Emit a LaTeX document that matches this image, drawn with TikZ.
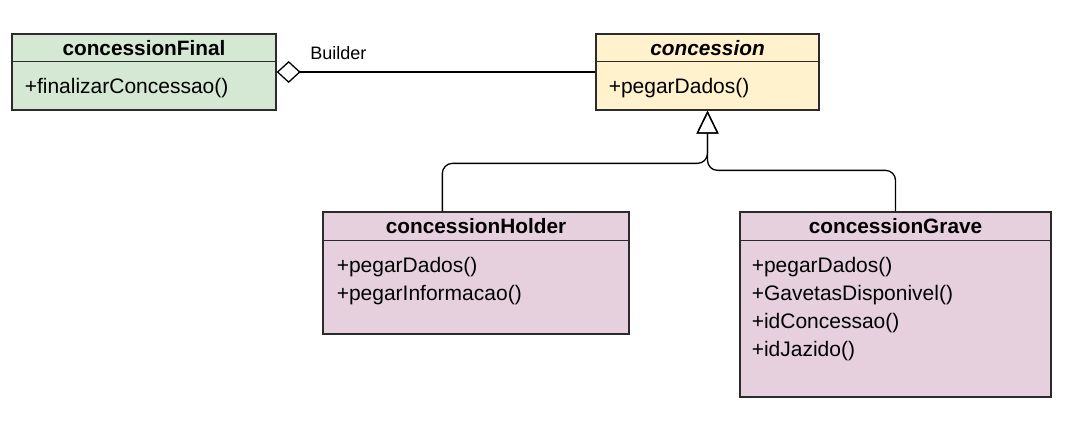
\documentclass[tikz,border=0pt]{standalone}
\usepackage{fontspec}
\setmainfont{Liberation Sans}
\usepackage{xcolor}
\usetikzlibrary{arrows.meta}
\definecolor{finalgreen}{HTML}{D5E8D4}
\definecolor{abstractyellow}{HTML}{FFF2CC}
\definecolor{childpurple}{HTML}{E6D0DE}
\definecolor{borderdark}{HTML}{2B2B2B}
\tikzset{
  classbox/.style={draw=borderdark,line width=0.65pt,inner sep=0pt},
  classname/.style={font=\bfseries\fontsize{10.4}{12}\selectfont,inner sep=0pt},
  method/.style={font=\fontsize{10.5}{12}\selectfont,inner sep=0pt,anchor=west,text height=0.73em,text depth=0.21em},
  divider/.style={draw=borderdark,line width=0.65pt},
  aggregation/.style={line width=0.65pt,-{Diamond[open,length=12pt,width=11pt]}},
  generalization/.style={line width=0.65pt,rounded corners=5pt,-{Triangle[open,length=11.5pt,width=11pt]}},
}
\begin{document}
\begin{tikzpicture}[x=0.5pt,y=-0.5pt]
\useasboundingbox (0,0) rectangle (1090,420);
\node[classbox,fill=finalgreen,minimum width=132pt,minimum height=38pt] (final) at (144,72) {};
\draw[divider] ([yshift=-14pt]final.north west) -- ([yshift=-14pt]final.north east);
\node[classname] (finalName) at ([yshift=-7.5pt]final.north) {concessionFinal};
\node[method] (finalM1) at ([xshift=6.5pt,yshift=-27.5pt]final.north west) {+finalizarConcessao()};
\node[classbox,fill=abstractyellow,minimum width=111.5pt,minimum height=38pt] (concession) at (707.5,72) {};
\draw[divider] ([yshift=-14pt]concession.north west) -- ([yshift=-14pt]concession.north east);
\node[classname,font=\bfseries\itshape\fontsize{10.4}{12}\selectfont] (concessionName) at ([yshift=-7.5pt]concession.north) {concession};
\node[method] (concessionM1) at ([xshift=6.5pt,yshift=-27.5pt]concession.north west) {+pegarDados()};
\node[classbox,fill=childpurple,minimum width=153pt,minimum height=61pt] (holder) at (476,273) {};
\draw[divider] ([yshift=-14.5pt]holder.north west) -- ([yshift=-14.5pt]holder.north east);
\node[classname] (holderName) at ([yshift=-7.5pt]holder.north) {concessionHolder};
\node[method] (holderM1) at ([xshift=7pt,yshift=-28pt]holder.north west) {+pegarDados()};
\node[method] (holderM2) at ([yshift=-14pt]holderM1.west) {+pegarInformacao()};
\node[classbox,fill=childpurple,minimum width=155.5pt,minimum height=92.5pt] (grave) at (895.5,304.5) {};
\draw[divider] ([yshift=-14.5pt]grave.north west) -- ([yshift=-14.5pt]grave.north east);
\node[classname] (graveName) at ([yshift=-7.5pt]grave.north) {concessionGrave};
\node[method] (graveM1) at ([xshift=6pt,yshift=-28pt]grave.north west) {+pegarDados()};
\node[method] (graveM2) at ([yshift=-14pt]graveM1.west) {+GavetasDisponivel()};
\node[method] (graveM3) at ([yshift=-14pt]graveM2.west) {+idConcessao()};
\node[method] (graveM4) at ([yshift=-14pt]graveM3.west) {+idJazido()};
\draw[aggregation] (concession.west) -- (final.east) node[pos=0.806,above=6pt,inner sep=0pt,font=\fontsize{9}{10}\selectfont] (builderLabel) {Builder};
\draw[generalization] ([xshift=60pt]holder.north west) -- ++(0,-48) -| (concession.south);
\draw[generalization] (grave.north) -- ++(0,-41) -| (concession.south);
\end{tikzpicture}
\end{document}
